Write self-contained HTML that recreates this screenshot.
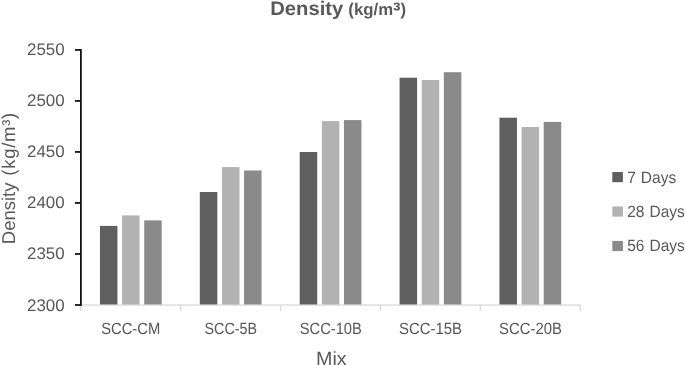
<!DOCTYPE html>
<html lang="en">
<head>
<meta charset="utf-8">
<title>Density (kg/m³)</title>
<style>
html,body{margin:0;padding:0;background:#fff;}
body{width:685px;height:365px;overflow:hidden;}
svg{display:block;font-family:"Liberation Sans",Arial,sans-serif;fill:#595959;will-change:transform;text-rendering:geometricPrecision;filter:blur(0.4px);}
</style>
</head>
<body>
<svg width="685" height="365" viewBox="0 0 685 365">
<rect width="685" height="365" fill="#ffffff"/>
<rect x="99.95" y="225.90" width="17.5" height="79.10" fill="#5f5f5f"/>
<rect x="122.10" y="215.40" width="17.5" height="89.60" fill="#b2b2b2"/>
<rect x="144.20" y="220.40" width="17.5" height="84.60" fill="#8a8a8a"/>
<rect x="199.83" y="192.00" width="17.5" height="113.00" fill="#5f5f5f"/>
<rect x="221.98" y="167.10" width="17.5" height="137.90" fill="#b2b2b2"/>
<rect x="244.08" y="170.50" width="17.5" height="134.50" fill="#8a8a8a"/>
<rect x="299.71" y="152.00" width="17.5" height="153.00" fill="#5f5f5f"/>
<rect x="321.86" y="121.10" width="17.5" height="183.90" fill="#b2b2b2"/>
<rect x="343.96" y="120.10" width="17.5" height="184.90" fill="#8a8a8a"/>
<rect x="399.59" y="77.70" width="17.5" height="227.30" fill="#5f5f5f"/>
<rect x="421.74" y="80.00" width="17.5" height="225.00" fill="#b2b2b2"/>
<rect x="443.84" y="72.20" width="17.5" height="232.80" fill="#8a8a8a"/>
<rect x="499.47" y="117.70" width="17.5" height="187.30" fill="#5f5f5f"/>
<rect x="521.62" y="127.00" width="17.5" height="178.00" fill="#b2b2b2"/>
<rect x="543.72" y="121.90" width="17.5" height="183.10" fill="#8a8a8a"/>
<rect x="81" y="304.4" width="499.8" height="1.3" fill="#d9d9d9"/>
<rect x="80.10" y="305" width="1.4" height="5.9" fill="#d9d9d9"/>
<rect x="179.98" y="305" width="1.4" height="5.9" fill="#d9d9d9"/>
<rect x="279.86" y="305" width="1.4" height="5.9" fill="#d9d9d9"/>
<rect x="379.74" y="305" width="1.4" height="5.9" fill="#d9d9d9"/>
<rect x="479.62" y="305" width="1.4" height="5.9" fill="#d9d9d9"/>
<rect x="579.50" y="305" width="1.4" height="5.9" fill="#d9d9d9"/>
<rect x="80.0" y="49.0" width="1.8" height="256.9" fill="#141414"/>
<rect x="75.0" y="49.00" width="6" height="1.8" fill="#141414"/>
<rect x="75.0" y="100.02" width="6" height="1.8" fill="#141414"/>
<rect x="75.0" y="151.04" width="6" height="1.8" fill="#141414"/>
<rect x="75.0" y="202.06" width="6" height="1.8" fill="#141414"/>
<rect x="75.0" y="253.08" width="6" height="1.8" fill="#141414"/>
<rect x="75.0" y="304.10" width="6" height="1.8" fill="#141414"/>
<text transform="translate(64.60,55.40) scale(1.0000,1)" font-size="16.9" text-anchor="end" font-weight="normal">2550</text>
<text transform="translate(64.60,106.42) scale(1.0000,1)" font-size="16.9" text-anchor="end" font-weight="normal">2500</text>
<text transform="translate(64.60,157.44) scale(1.0000,1)" font-size="16.9" text-anchor="end" font-weight="normal">2450</text>
<text transform="translate(64.60,208.46) scale(1.0000,1)" font-size="16.9" text-anchor="end" font-weight="normal">2400</text>
<text transform="translate(64.60,259.48) scale(1.0000,1)" font-size="16.9" text-anchor="end" font-weight="normal">2350</text>
<text transform="translate(64.60,310.50) scale(1.0000,1)" font-size="16.9" text-anchor="end" font-weight="normal">2300</text>
<text transform="translate(130.70,334.40) scale(0.9080,1)" font-size="16.3" text-anchor="middle" font-weight="normal">SCC-CM</text>
<text transform="translate(230.80,334.40) scale(0.8800,1)" font-size="16.3" text-anchor="middle" font-weight="normal">SCC-5B</text>
<text transform="translate(330.75,334.40) scale(0.9020,1)" font-size="16.3" text-anchor="middle" font-weight="normal">SCC-10B</text>
<text transform="translate(430.55,334.40) scale(0.9170,1)" font-size="16.3" text-anchor="middle" font-weight="normal">SCC-15B</text>
<text transform="translate(530.55,334.40) scale(0.9140,1)" font-size="16.3" text-anchor="middle" font-weight="normal">SCC-20B</text>
<text transform="translate(331.30,365.30) scale(1.0300,1)" font-size="19.1" text-anchor="middle" font-weight="normal">Mix</text>
<text transform="translate(15.4,244.2) rotate(-90) scale(1.0,1)" font-size="18.5" word-spacing="1.65">Density <tspan letter-spacing="0.72">(kg/m³)</tspan></text>
<text transform="translate(270.30,14.95) scale(1.0300,1)" font-size="19.6" text-anchor="start" font-weight="bold">Density</text>
<text transform="translate(348.30,14.95) scale(1.0000,1)" font-size="16.8" text-anchor="start" font-weight="bold">(kg/m<tspan font-size="22.4" dy="2.6">³</tspan><tspan dy="-2.6">)</tspan></text>
<rect x="612.3" y="172.00" width="10.6" height="10.2" fill="#5f5f5f"/>
<text transform="translate(627.20,182.50) scale(0.9530,1)" font-size="16.3" text-anchor="start" font-weight="normal" word-spacing="0.7">7 Days</text>
<rect x="612.3" y="206.45" width="10.6" height="10.2" fill="#b2b2b2"/>
<text transform="translate(627.20,216.95) scale(0.9530,1)" font-size="16.3" text-anchor="start" font-weight="normal" word-spacing="0.7">28 Days</text>
<rect x="612.3" y="240.90" width="10.6" height="10.2" fill="#8a8a8a"/>
<text transform="translate(627.20,251.40) scale(0.9530,1)" font-size="16.3" text-anchor="start" font-weight="normal" word-spacing="0.7">56 Days</text>
</svg>
</body>
</html>
